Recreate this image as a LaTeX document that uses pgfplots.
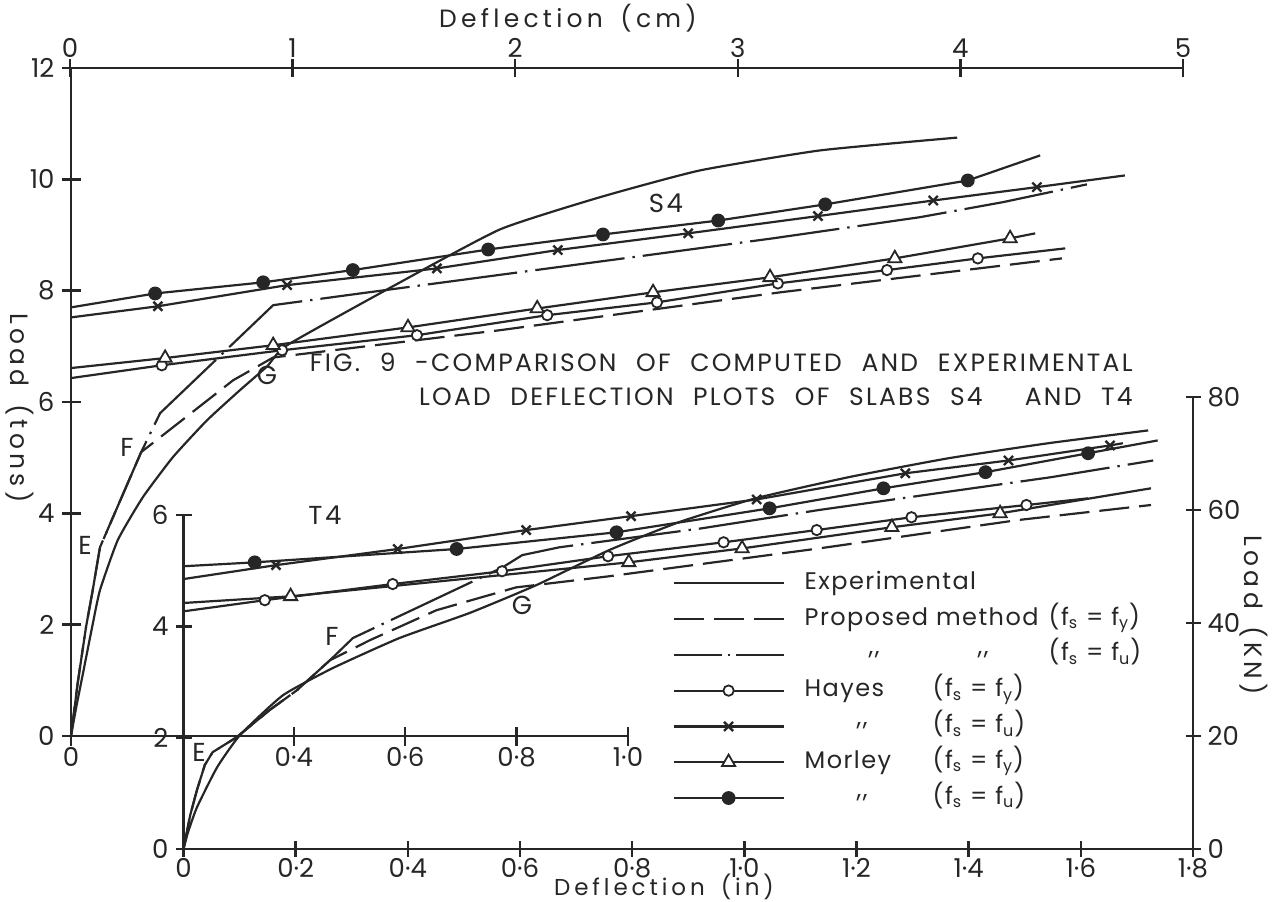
\documentclass[border=0pt]{standalone}
\usepackage{fontspec}
\setmainfont{Poppins}
\newfontfamily\ttl[LetterSpace=17]{Poppins}
\newfontfamily\cpt[LetterSpace=9, WordSpace=2.2]{Poppins}
\newfontfamily\lbl[LetterSpace=10]{Poppins}
\newfontfamily\lgd[LetterSpace=6]{Poppins}
\usepackage{pgfplots}
\pgfplotsset{compat=1.18}
\definecolor{ink}{gray}{0.15}

\pgfplotsset{
  base/.style={
    scale only axis, clip=false,
    every tick/.append style={line width=1.2pt, draw=ink},
    tick align=inside,
    /pgf/number format/assume math mode=true,
    ticklabel style={font=\fontsize{13}{15}\selectfont, text=ink},
    xticklabel style={inner sep=0.5pt},
  },
  noarrow/.style={
    axis line style={-, line width=1.2pt, draw=ink},
    every outer x axis line/.append style={-},
    every outer y axis line/.append style={-},
    every inner x axis line/.append style={-},
    every inner y axis line/.append style={-},
  },
  ser/.style={draw=ink, line width=1.1pt, mark=none},
  expl/.style={ser, solid},
  pfy/.style={ser, dash pattern=on 15pt off 5pt},
  pfu/.style={ser, dash pattern=on 45pt off 4pt on 1.2pt off 4pt},
  hfy/.style={ser, solid, mark=*, mark size=2.6pt, mark options={solid, fill=white, draw=ink, line width=0.9pt}},
  hfu/.style={ser, solid, mark=x, mark size=3.2pt, mark options={solid, draw=ink, line width=1.2pt}},
  mfy/.style={ser, solid, mark=triangle*, mark size=3.8pt, mark options={solid, fill=white, draw=ink, line width=0.9pt}},
  mfu/.style={ser, solid, mark=*, mark size=2.9pt, mark options={solid, fill=ink, draw=ink}},
}

\begin{document}
\begin{tikzpicture}
\path[use as bounding box] (0,0) rectangle (636pt,-450.5pt);

% ---------------- S4 (upper-left axes, inches / tons) ----------------
\begin{axis}[base,
  at={(35.5pt,-368pt)}, anchor=south west,
  width=278.5pt, height=334pt,
  xmin=0, xmax=1, ymin=0, ymax=12,
  axis x line=bottom, axis y line=left, noarrow,
  xtick={0,0.4,0.6,0.8,1}, xticklabels={0,0·4,0·6,0·8,1·0},
  ytick={0,2,4,6,8,10,12},
  major tick length=9.5pt,
]
\addplot[expl, smooth, tension=0.3] coordinates {(0,0) (0.010,0.55) (0.020,1.05) (0.038,1.96) (0.052,2.62) (0.084,3.52) (0.129,4.29) (0.183,5.01) (0.244,5.67) (0.303,6.21) (0.352,6.64) (0.388,7.02) (0.578,8.08) (0.770,9.10) (0.950,9.68) (1.129,10.16) (1.345,10.52) (1.591,10.75)};
\addplot[pfy] coordinates {(0,0) (0.012,0.95) (0.027,1.96) (0.039,2.62) (0.052,3.39) (0.126,5.10) (0.291,6.39) (0.363,6.80) (0.770,7.29) (1.273,7.97) (1.779,8.58)};
\addplot[pfu] coordinates {(0,0) (0.012,0.95) (0.027,1.96) (0.039,2.62) (0.052,3.39) (0.126,5.10) (0.160,5.80) (0.363,7.74) (0.519,7.95) (1.022,8.62) (1.260,8.94) (1.524,9.32) (1.673,9.59) (1.824,9.91)};
\addplot[hfy, mark indices={2,3,4,5,6,7,8,9}] coordinates {(0,6.43) (0.163,6.66) (0.379,6.93) (0.621,7.20) (0.855,7.56) (1.052,7.79) (1.269,8.13) (1.465,8.37) (1.628,8.58) (1.785,8.76)};
\addplot[hfu, mark indices={2,3,4,5,6,7,8,9}] coordinates {(0,7.52) (0.156,7.72) (0.388,8.10) (0.657,8.40) (0.874,8.73) (1.108,9.03) (1.341,9.34) (1.548,9.62) (1.734,9.86) (1.892,10.07)};
\addplot[mfy, mark indices={2,3,4,5,6,7,8,9}] coordinates {(0,6.61) (0.169,6.79) (0.363,7.02) (0.605,7.34) (0.837,7.68) (1.045,7.97) (1.255,8.24) (1.479,8.58) (1.686,8.94) (1.731,9.03)};
\addplot[mfu, mark indices={2,3,4,5,6,7,8,9}] coordinates {(0,7.70) (0.151,7.95) (0.345,8.15) (0.506,8.37) (0.749,8.74) (0.955,9.01) (1.162,9.26) (1.354,9.55) (1.610,9.98) (1.740,10.43)};
\end{axis}

% ---------------- top axis in cm ----------------
\begin{axis}[base,
  at={(35pt,-34pt)}, anchor=north west,
  width=556.5pt, height=20pt,
  xmin=0, xmax=5, ymin=0, ymax=1,
  axis x line=top, axis y line=none, noarrow,
  xtick={0,1,2,3,4,5}, ytick=\empty,
  major tick length=9pt,
]
\end{axis}

% ---------------- T4 (lower-right axes, inches / tons) ----------------
\begin{axis}[base,
  at={(91.75pt,-424.5pt)}, anchor=south west,
  width=504.75pt, height=167pt,
  xmin=0, xmax=1.8, ymin=0, ymax=6,
  axis x line=bottom, axis y line=left, noarrow,
  xtick={0,0.2,0.4,0.6,0.8,1.0,1.2,1.4,1.6,1.8},
  xticklabels={0,0·2,0·4,0·6,0·8,1·0,1·2,1·4,1·6,1·8},
  ytick={0,2,4,6}, yticklabels={0,\raisebox{-5pt}{2},4,6},
  major tick length=8pt,
  legend style={at={(0.484,0.833)}, anchor=north west, draw=none, fill=none,
    inner sep=0pt, row sep=5.9pt, column sep=10pt,
    font=\lgd\fontsize{12}{14}\selectfont, text=ink,
    nodes={inner sep=0pt, text height=9pt, text depth=3pt}},
  legend cell align=left,
  legend image code/.code={\draw[mark repeat=2,mark phase=2,#1] plot coordinates {(0pt,0pt) (27.5pt,0pt) (55pt,0pt)};},
]
\addplot[expl, smooth, tension=0.3, forget plot] coordinates {(0,0) (0.008,0.30) (0.024,0.75) (0.060,1.47) (0.101,2.05) (0.177,2.76) (0.266,3.25) (0.385,3.79) (0.510,4.24) (0.629,4.74) (0.759,5.37) (0.883,5.87) (1.020,6.30) (1.186,6.68) (1.364,7.02) (1.542,7.29) (1.720,7.52)};
\addplot[pfy, forget plot] coordinates {(0,0) (0.012,0.61) (0.024,1.06) (0.038,1.51) (0.052,1.74) (0.095,2.01) (0.154,2.50) (0.202,2.85) (0.261,3.39) (0.332,3.75) (0.451,4.29) (0.593,4.70) (0.759,4.90) (1.133,5.40) (1.488,5.91) (1.725,6.18)};
\addplot[pfu, forget plot] coordinates {(0,0) (0.012,0.61) (0.024,1.06) (0.038,1.51) (0.052,1.74) (0.095,2.01) (0.154,2.50) (0.202,2.85) (0.261,3.39) (0.302,3.79) (0.569,5.06) (0.604,5.28) (0.670,5.42) (0.923,5.76) (1.133,6.09) (1.343,6.39) (1.547,6.68) (1.729,6.98)};
\addplot[hfy, mark indices={2,3,4,5,6,7,8,9}, forget plot] coordinates {(0,4.27) (0.145,4.47) (0.373,4.76) (0.568,4.99) (0.757,5.26) (0.963,5.51) (1.129,5.73) (1.298,5.96) (1.503,6.18) (1.613,6.30)};
\addplot[hfu, mark indices={2,3,4,5,6,7,8,9}, forget plot] coordinates {(0,4.85) (0.165,5.10) (0.382,5.39) (0.611,5.73) (0.798,5.98) (1.022,6.28) (1.287,6.75) (1.471,6.98) (1.652,7.25) (1.675,7.29)};
\addplot[mfy, mark indices={2,3,4,5,6}, forget plot] coordinates {(0,4.42) (0.191,4.54) (0.794,5.15) (0.996,5.40) (1.263,5.78) (1.456,6.03) (1.725,6.48)};
\addplot[mfu, mark indices={2,3,4,5,6,7,8}, forget plot] coordinates {(0,5.08) (0.127,5.15) (0.487,5.39) (0.772,5.69) (1.045,6.12) (1.248,6.48) (1.430,6.77) (1.613,7.11) (1.737,7.34)};

\addlegendimage{expl}
\addlegendentry{Experimental}
\addlegendimage{pfy}
\addlegendentry{\makebox[122pt][l]{Proposed method}(f\textsubscript{s} = f\textsubscript{y})}
\addlegendimage{ser, dash pattern=on 24pt off 3pt on 1.2pt off 3pt}
\addlegendentry{\makebox[122pt][l]{\hspace{32pt}\raisebox{.5ex}{,,}\hspace{49pt}\raisebox{.5ex}{,,}}(f\textsubscript{s} = f\textsubscript{u})}
\addlegendimage{hfy}
\addlegendentry{\makebox[64pt][l]{Hayes}(f\textsubscript{s} = f\textsubscript{y})}
\addlegendimage{hfu}
\addlegendentry{\makebox[64pt][l]{\hspace{26pt}\raisebox{.5ex}{,,}}(f\textsubscript{s} = f\textsubscript{u})}
\addlegendimage{mfy}
\addlegendentry{\makebox[64pt][l]{Morley}(f\textsubscript{s} = f\textsubscript{y})}
\addlegendimage{mfu}
\addlegendentry{\makebox[64pt][l]{\hspace{26pt}\raisebox{.5ex}{,,}}(f\textsubscript{s} = f\textsubscript{u})}
\end{axis}

% ---------------- right axis in kN ----------------
\begin{axis}[base,
  at={(596.5pt,-424.5pt)}, anchor=south east,
  width=20pt, height=226pt,
  xmin=0, xmax=1, ymin=0, ymax=80,
  axis x line=none, axis y line=right, noarrow,
  ytick={0,20,40,60,80}, xtick=\empty,
  major tick length=7.5pt,
]
\end{axis}

% ---------------- texts ----------------
\begin{scope}[every node/.style={text=ink, inner sep=0pt}]
\node[font=\ttl\fontsize{12.5}{14}\selectfont] at (568*0.5pt,-18*0.5pt) {Deflection\hspace{0.7em}(cm)};
\node[font=\ttl\fontsize{11.5}{13}\selectfont] at (664*0.5pt,-887*0.5pt) {Deflection\hspace{0.7em}(in)};
\node[font=\ttl\fontsize{12.5}{14}\selectfont, rotate=-90] at (20*0.5pt,-408*0.5pt) {Load\hspace{0.7em}(tons)};
\node[font=\ttl\fontsize{12.5}{14}\selectfont, rotate=-90] at (1254*0.5pt,-615*0.5pt) {Load\hspace{0.7em}(KN)};
\node[font=\cpt\fontsize{12.5}{14}\selectfont, anchor=east] at (1133*0.5pt,-362*0.5pt) {FIG. 9 -COMPARISON OF COMPUTED AND EXPERIMENTAL};
\node[font=\cpt\fontsize{12.5}{14}\selectfont, anchor=east] at (1133*0.5pt,-397*0.5pt) {LOAD DEFLECTION PLOTS OF SLABS S4\hspace{0.9em} AND T4};
\node[font=\lbl\fontsize{13}{14}\selectfont] at (666*0.5pt,-203*0.5pt) {S4};
\node[font=\lbl\fontsize{13}{14}\selectfont] at (325*0.5pt,-515*0.5pt) {T4};
\node[font=\lbl\fontsize{13}{14}\selectfont] at (85*0.5pt,-545*0.5pt) {E};
\node[font=\lbl\fontsize{13}{14}\selectfont] at (127*0.5pt,-447*0.5pt) {F};
\node[font=\lbl\fontsize{13}{14}\selectfont] at (267*0.5pt,-375*0.5pt) {G};
\node[font=\lbl\fontsize{13}{14}\selectfont] at (199*0.5pt,-752*0.5pt) {E};
\node[font=\lbl\fontsize{13}{14}\selectfont] at (332*0.5pt,-636*0.5pt) {F};
\node[font=\lbl\fontsize{13}{14}\selectfont] at (522*0.5pt,-605*0.5pt) {G};
\end{scope}
\end{tikzpicture}
\end{document}
